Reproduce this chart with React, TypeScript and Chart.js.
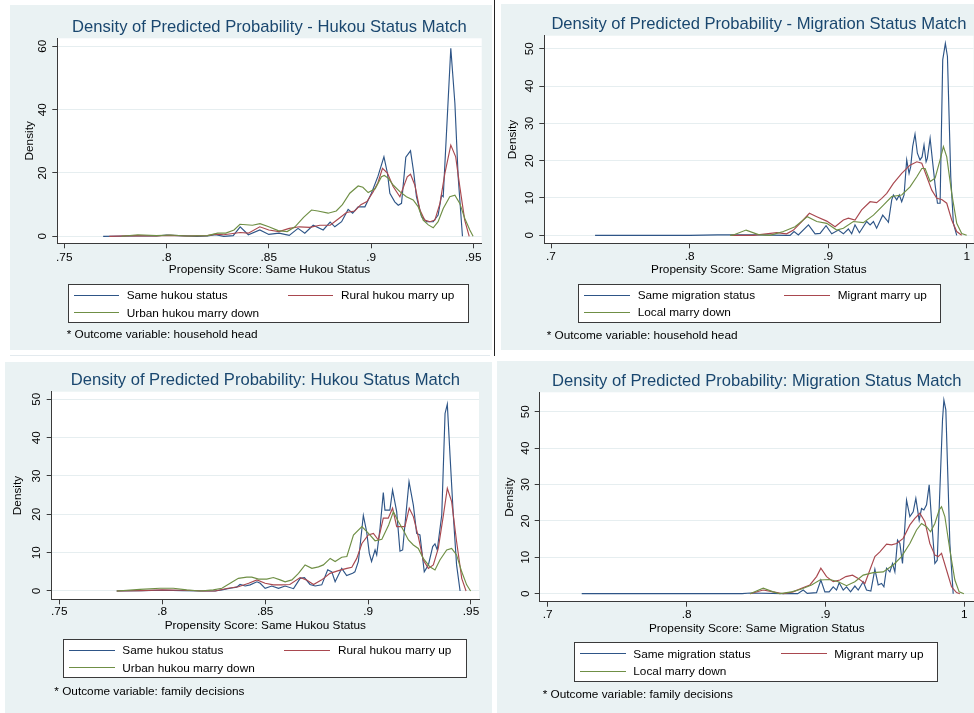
import React, { useEffect, useRef } from "react";
import { Chart, registerables } from "chart.js";

Chart.register(...registerables);

type Pt = [number, number];

// ---------- Data: household head, hukou status match (top-left) ----------
const hhHukouSame: Pt[] = [
  [0.769, 0], [0.785, 0.1], [0.795, 0.1], [0.8, 0.4], [0.806, 0.2], [0.815, 0], [0.82, 0.1], [0.824, 0.5],
  [0.828, 0], [0.8326, 0.2], [0.836, 3], [0.84, 0.5], [0.8456, 2], [0.85, 0.6], [0.855, 1], [0.86, 0.3],
  [0.8643, 2.5], [0.8676, 1], [0.8717, 3.5], [0.8766, 2], [0.88, 4.5], [0.8823, 3], [0.8856, 4.6], [0.8888, 8.5],
  [0.891, 7.3], [0.8937, 9.3], [0.897, 9.3], [0.9002, 13.6], [0.9034, 19], [0.9063, 25.1], [0.908, 20], [0.9092, 13.6],
  [0.9116, 10.9], [0.9133, 9.8], [0.9149, 10.4], [0.917, 25], [0.9193, 27], [0.9209, 20], [0.9222, 12.5], [0.9247, 6.2],
  [0.9271, 4.6], [0.9304, 4.6], [0.9328, 6.7], [0.9345, 13], [0.9353, 12.5], [0.939, 59.4], [0.941, 42], [0.9426, 18.8],
  [0.9447, 0],
];
const hhHukouRuralUp: Pt[] = [
  [0.772, 0], [0.785, 0.2], [0.795, 0.1], [0.801, 0.3], [0.81, 0.1], [0.82, 0.2], [0.824, 0.7], [0.828, 0.5],
  [0.836, 1.2], [0.84, 1], [0.8456, 3], [0.85, 2], [0.855, 1.5], [0.86, 2.5], [0.865, 3], [0.87, 2.8],
  [0.875, 3.5], [0.88, 3.5], [0.883, 5], [0.888, 7.5], [0.892, 8], [0.895, 10], [0.898, 11], [0.901, 14],
  [0.9034, 17], [0.9056, 21.5], [0.908, 20], [0.9108, 15.7], [0.9141, 12.5], [0.9177, 18.8], [0.9193, 19.6], [0.9214, 16.2],
  [0.9239, 8.3], [0.9263, 5.1], [0.9288, 4.6], [0.9312, 5.1], [0.9337, 10.4], [0.9361, 19.9], [0.939, 28.8], [0.9414, 25.1],
  [0.9434, 15.7], [0.9458, 5.1], [0.948, 0],
];
const hhHukouUrbanDown: Pt[] = [
  [0.778, 0], [0.786, 0.5], [0.795, 0.2], [0.802, 0.4], [0.81, 0.1], [0.82, 0.2], [0.825, 1], [0.829, 1],
  [0.833, 2], [0.8359, 3.8], [0.842, 3.5], [0.8457, 4], [0.85, 3], [0.8546, 1.8], [0.859, 1.5], [0.8628, 3],
  [0.867, 6], [0.8709, 8.3], [0.874, 8], [0.879, 7.3], [0.883, 8], [0.886, 10], [0.8896, 13.6], [0.8937, 15.9],
  [0.896, 15.5], [0.8986, 13.8], [0.902, 15], [0.9051, 18.8], [0.9065, 19.2], [0.9085, 18.3], [0.9108, 16.2], [0.9141, 14.1],
  [0.9173, 12.5], [0.9206, 11.5], [0.923, 9.4], [0.9255, 5.1], [0.928, 3.6], [0.9304, 2.7], [0.9328, 4.6], [0.9353, 8.8],
  [0.9385, 12.5], [0.941, 13], [0.9434, 10.4], [0.9458, 5.7], [0.9483, 2], [0.9499, 0],
];

// ---------- Data: household head, migration status match (top-right) ----------
const hhMigSame: Pt[] = [
  [0.7318, 0], [0.8, 0], [0.82, 0.1], [0.85, 0.1], [0.87, 0], [0.8725, 0], [0.8754, 1], [0.8785, 0.1],
  [0.8858, 2.8], [0.8906, 0.4], [0.8942, 0.5], [0.8985, 2.6], [0.9026, 0.4], [0.9074, 1.4], [0.911, 0.4], [0.9146, 1.7],
  [0.917, 0.4], [0.9194, 2.8], [0.9226, 0.7], [0.9278, 3.7], [0.9303, 2.8], [0.9327, 3.7], [0.935, 1.9], [0.9394, 5.4],
  [0.9423, 4.1], [0.9435, 3.5], [0.9459, 9.5], [0.9471, 10.8], [0.9495, 9.5], [0.9514, 10.8], [0.9531, 9], [0.9548, 10.8],
  [0.9567, 20.2], [0.9584, 16.6], [0.9596, 18.4], [0.961, 23.75], [0.9627, 27.1], [0.9644, 22], [0.9663, 20.2], [0.9678, 21],
  [0.9692, 24.2], [0.9707, 19.7], [0.9716, 20.6], [0.9736, 26], [0.9755, 19.3], [0.9772, 13.5], [0.9789, 8.6], [0.9808, 8.6],
  [0.9827, 47], [0.9846, 51.4], [0.9861, 47.9], [0.9885, 15.7], [0.9904, 3.2], [0.9928, 0],
];
const hhMigMigrantUp: Pt[] = [
  [0.83, 0], [0.846, 0], [0.863, 0.7], [0.87, 0.4], [0.875, 1.4], [0.881, 3.7], [0.8865, 5.9], [0.8918, 5],
  [0.899, 3.8], [0.905, 2.3], [0.911, 4.1], [0.9146, 4.6], [0.9194, 4.1], [0.9242, 6.8], [0.9303, 9], [0.935, 8.75],
  [0.9387, 9.9], [0.9423, 11.25], [0.9471, 13.9], [0.9531, 16.6], [0.9591, 18.8], [0.964, 19.7], [0.9676, 19.3], [0.9712, 15.7],
  [0.9748, 12.1], [0.9784, 9.9], [0.982, 9.6], [0.9856, 8.6], [0.9892, 4.1], [0.9928, 1], [0.9964, 0],
];
const hhMigLocalDown: Pt[] = [
  [0.8292, 0], [0.8316, 0.1], [0.8408, 1.4], [0.8497, 0.2], [0.858, 0], [0.8677, 1], [0.8761, 2.3], [0.885, 5],
  [0.8918, 3.7], [0.899, 3.2], [0.9062, 1.4], [0.911, 1.9], [0.9182, 3.7], [0.9254, 3.4], [0.9327, 5.4], [0.9399, 8.1],
  [0.9459, 10.4], [0.9531, 10.8], [0.9591, 13], [0.964, 15.7], [0.9676, 17.9], [0.97, 17.9], [0.9736, 14.4], [0.9772, 15.3],
  [0.9808, 20.2], [0.9832, 23.75], [0.9856, 21], [0.9892, 11.25], [0.9928, 3.2], [0.9964, 0.5], [1.0, 0],
];

// ---------- Data: family decisions, hukou status match (bottom-left) ----------
const fdHukouSame: Pt[] = [
  [0.7779, 0], [0.79, 0.1], [0.8, 0.2], [0.81, 0.1], [0.82, 0], [0.8257, 0], [0.829, 0.3], [0.833, 0.7],
  [0.8362, 1], [0.8378, 1.7], [0.8403, 1.3], [0.8427, 1.6], [0.846, 2.4], [0.8476, 2], [0.85, 0.7], [0.8532, 1.3],
  [0.8565, 0.7], [0.8597, 1.3], [0.8638, 0.6], [0.867, 3.3], [0.8691, 3.5], [0.8718, 1.7], [0.8743, 1.3], [0.8775, 1.6],
  [0.8804, 5.5], [0.8824, 5], [0.884, 2.4], [0.8872, 5.9], [0.8896, 4], [0.8925, 4.6], [0.8936, 5], [0.8953, 7.7],
  [0.8977, 19.7], [0.8993, 15.5], [0.9006, 9.8], [0.9017, 7.7], [0.9034, 10.7], [0.9042, 9.4], [0.9058, 16.3], [0.9074, 25.7],
  [0.9082, 21.1], [0.9106, 21.1], [0.9119, 26.3], [0.9139, 20.7], [0.9155, 10.4], [0.9168, 10.7], [0.9179, 17.2], [0.9199, 28.5],
  [0.922, 22.4], [0.9236, 15], [0.9252, 14.6], [0.9273, 5], [0.9293, 6.8], [0.9314, 11.6], [0.9325, 12.3], [0.9336, 10.7],
  [0.9358, 19.8], [0.9374, 46.3], [0.9385, 48.7], [0.9398, 35.5], [0.9414, 19.8], [0.943, 6.8], [0.9447, 0],
];
const fdHukouRuralUp: Pt[] = [
  [0.7779, 0], [0.79, 0.1], [0.8, 0.3], [0.81, 0.2], [0.82, 0], [0.8257, 0], [0.832, 0.7], [0.837, 1.1],
  [0.842, 2], [0.846, 2.9], [0.85, 2], [0.854, 1.6], [0.858, 1.6], [0.862, 1.7], [0.867, 3.5], [0.87, 2.9],
  [0.8735, 1.7], [0.8775, 2.9], [0.8815, 4.6], [0.8856, 5.3], [0.8897, 5.9], [0.8921, 6.2], [0.8945, 8.5], [0.897, 12.4],
  [0.9001, 14.6], [0.9026, 15], [0.905, 13.3], [0.9074, 19], [0.9098, 19], [0.9119, 21.6], [0.9139, 16.8], [0.9163, 16.8],
  [0.9179, 16.8], [0.92, 21.6], [0.922, 19.4], [0.9244, 14.2], [0.9268, 8.1], [0.9293, 5.9], [0.9317, 6.8], [0.9341, 11.1],
  [0.9366, 19.8], [0.9385, 26.8], [0.9406, 23.3], [0.943, 12.9], [0.9455, 3.3], [0.9476, 0],
];
const fdHukouUrbanDown: Pt[] = [
  [0.7779, 0], [0.7892, 0.4], [0.7989, 0.7], [0.8054, 0.7], [0.8119, 0.3], [0.8183, 0], [0.8248, 0.3], [0.829, 0.7],
  [0.833, 2], [0.837, 3.3], [0.8411, 3.6], [0.8435, 3.6], [0.8468, 3.1], [0.8508, 3.1], [0.854, 3.5], [0.8573, 2.9],
  [0.8597, 2.4], [0.863, 2.9], [0.8662, 4.6], [0.8694, 6.8], [0.8727, 5.9], [0.8759, 6.3], [0.8783, 6.8], [0.8816, 8.5],
  [0.884, 7.7], [0.8872, 8.8], [0.8897, 9], [0.8929, 14.6], [0.897, 16.8], [0.9002, 15], [0.9034, 13.1], [0.9067, 13.5],
  [0.91, 17.2], [0.9123, 20.7], [0.9147, 18.1], [0.9171, 15.9], [0.9196, 13.3], [0.922, 12], [0.9244, 11.1], [0.9268, 8.5],
  [0.93, 6.3], [0.9325, 5.5], [0.9349, 8.1], [0.9382, 10.7], [0.9406, 11.1], [0.943, 9.4], [0.9455, 5], [0.9479, 1.6],
  [0.9498, 0],
];

// ---------- Data: family decisions, migration status match (bottom-right) ----------
const fdMigSame: Pt[] = [
  [0.7245, 0], [0.8, 0], [0.84, 0], [0.846, 0.2], [0.87, 0], [0.88, 0], [0.884, 1], [0.8869, 0.1],
  [0.8936, 0.3], [0.8967, 3.75], [0.8996, 0.5], [0.9027, 0.5], [0.9056, 1.9], [0.908, 1], [0.9099, 3], [0.9128, 1],
  [0.9152, 1.9], [0.9181, 0.5], [0.9212, 2.1], [0.9236, 1], [0.9272, 3.3], [0.9296, 1], [0.9327, 0.7], [0.9356, 6.7],
  [0.938, 2.4], [0.9404, 2.8], [0.9421, 1.9], [0.944, 7], [0.9464, 6], [0.9483, 8.3], [0.95, 6], [0.9519, 14.7],
  [0.9536, 13.8], [0.9555, 8.3], [0.9584, 25.7], [0.9608, 21.2], [0.9632, 22.5], [0.9651, 26.2], [0.9675, 20.2], [0.9692, 23.4],
  [0.9709, 23], [0.9728, 24.4], [0.9747, 29.9], [0.9766, 19.3], [0.9788, 8.3], [0.9805, 9.2], [0.9843, 47.7], [0.9853, 53.2],
  [0.9867, 50.5], [0.9896, 13.8], [0.992, 0],
];
const fdMigMigrantUp: Pt[] = [
  [0.8457, 0], [0.8552, 1], [0.8624, 0.5], [0.8696, 0], [0.8768, 0.5], [0.8828, 1.5], [0.8888, 2.4], [0.8936, 4.7],
  [0.8967, 7], [0.9008, 4.7], [0.9056, 3.3], [0.9104, 3.75], [0.9147, 4.7], [0.9195, 5.1], [0.9236, 4.2], [0.9284, 2.8],
  [0.932, 6.5], [0.9356, 10.2], [0.9392, 11.5], [0.944, 13.6], [0.9476, 13.4], [0.9512, 13.8], [0.956, 15.2], [0.9608, 18.9],
  [0.9644, 20.7], [0.968, 22.1], [0.9716, 19.8], [0.9752, 13.8], [0.9788, 10.6], [0.9812, 10.2], [0.9836, 11.1], [0.9872, 6.5],
  [0.9908, 1.9], [0.9944, 0.3], [0.9968, 0],
];
const fdMigLocalDown: Pt[] = [
  [0.8457, 0], [0.8552, 1.5], [0.8624, 0.5], [0.8672, 0], [0.8756, 0.5], [0.8828, 1.3], [0.89, 2.4], [0.896, 3.75],
  [0.9032, 3.9], [0.9092, 3.3], [0.9152, 2.2], [0.9212, 3.3], [0.9272, 5.1], [0.9344, 5.8], [0.9416, 6], [0.9488, 7.9],
  [0.9548, 10.2], [0.9608, 13.8], [0.9656, 17.5], [0.9692, 19.3], [0.9728, 18.4], [0.9757, 17], [0.9788, 19.3], [0.9819, 23],
  [0.9836, 23.9], [0.986, 21.2], [0.9896, 12], [0.9932, 3.75], [0.9963, 0.5], [0.9997, 0],
];

// ---------- Ticks and labels ----------
const hukouXTicks = [0.75, 0.8, 0.85, 0.9, 0.95];
const hukouXTickLabels = [".75", ".8", ".85", ".9", ".95"];
const migXTicks = [0.7, 0.8, 0.9, 1];
const migXTickLabels = [".7", ".8", ".9", "1"];
const yTicksTo60 = [0, 20, 40, 60];
const yTicksTo50 = [0, 10, 20, 30, 40, 50];

const hukouSeriesNames = ["Same hukou status", "Rural hukou marry up", "Urban hukou marry down"];
const migSeriesNames = ["Same migration status", "Migrant marry up", "Local marry down"];
const panelTitles = [
  "Density of Predicted Probability - Hukou Status Match",
  "Density of Predicted Probability - Migration Status Match",
  "Density of Predicted Probability: Hukou Status Match",
  "Density of Predicted Probability: Migration Status Match",
];
const xAxisTitles = ["Propensity Score: Same Hukou Status", "Propensity Score: Same Migration Status"];
const yAxisTitle = "Density";
const notes = ["* Outcome variable: household head", "* Outcome variable: family decisions"];

// ---------- Styles ----------
const FONT = "'Liberation Sans', Arial, Helvetica, sans-serif";
const FS = 11.8;
const TITLE_FS = 16.6;
const BG = "#EAF2F3";
const GRID = "#E6EEF0";
const AXIS = "#3a3a3a";
const TEXT = "#000";
const TITLE_COLOR = "#1A476F";
const SERIES_COLORS = ["#2E5587", "#A9484F", "#6F8F45"];

type PanelCfg = {
  box: { l: number; t: number; w: number; h: number };
  plot: { L: number; T: number; R: number; B: number };
  xMin: number; xMax: number; yMin: number; yMax: number;
  xTicks: number[]; xLabels: string[]; yTicks: number[];
  series: Pt[][]; names: string[];
  title: string; xTitle: string; note: string;
  titleY: number; yLabX: number; yTitleX: number; xTickY: number; xTitleY: number;
  legend: { x: number; y: number; w: number; h: number; rows: number[]; c1: [number, number, number]; c2: [number, number, number] };
  noteX: number; noteY: number;
};

const panels: PanelCfg[] = [
  {
    box: { l: 10, t: 5, w: 482, h: 345 },
    plot: { L: 57.3, T: 38.3, R: 481.7, B: 243.3 },
    xMin: 0.74658, xMax: 0.95411, yMin: -2.21, yMax: 62.53,
    xTicks: hukouXTicks, xLabels: hukouXTickLabels, yTicks: yTicksTo60,
    series: [hhHukouSame, hhHukouRuralUp, hhHukouUrbanDown], names: hukouSeriesNames,
    title: panelTitles[0], xTitle: xAxisTitles[0], note: notes[0],
    titleY: 26.7, yLabX: 42.3, yTitleX: 30, xTickY: 257.5, xTitleY: 270,
    legend: { x: 68.3, y: 284.3, w: 401, h: 39, rows: [296, 313.3], c1: [74, 119, 126.7], c2: [288.3, 333.3, 341] },
    noteX: 66.7, noteY: 335,
  },
  {
    box: { l: 501, t: 4, w: 473, h: 346 },
    plot: { L: 544.3, T: 35.7, R: 973.5, B: 243.3 },
    xMin: 0.69516, xMax: 1.00491, yMin: -2.14, yMax: 53.48,
    xTicks: migXTicks, xLabels: migXTickLabels, yTicks: yTicksTo50,
    series: [hhMigSame, hhMigMigrantUp, hhMigLocalDown], names: migSeriesNames,
    title: panelTitles[1], xTitle: xAxisTitles[1], note: notes[0],
    titleY: 24.5, yLabX: 530, yTitleX: 512.8, xTickY: 256.3, xTitleY: 270,
    legend: { x: 578.3, y: 283.7, w: 362.4, h: 39.6, rows: [295.7, 312.7], c1: [584.3, 630, 637.7], c2: [784, 830, 837.7] },
    noteX: 546.7, noteY: 335.7,
  },
  {
    box: { l: 5, t: 362, w: 487, h: 351 },
    plot: { L: 51.7, T: 391.7, R: 479, B: 599.3 },
    xMin: 0.74631, xMax: 0.95389, yMin: -2.17, yMax: 51.98,
    xTicks: hukouXTicks, xLabels: hukouXTickLabels, yTicks: yTicksTo50,
    series: [fdHukouSame, fdHukouRuralUp, fdHukouUrbanDown], names: hukouSeriesNames,
    title: panelTitles[2], xTitle: xAxisTitles[0], note: notes[1],
    titleY: 380.5, yLabX: 37.2, yTitleX: 18, xTickY: 612.2, xTitleY: 625.8,
    legend: { x: 63.3, y: 639.3, w: 404, h: 39, rows: [651, 668.3], c1: [69, 115, 122.3], c2: [284, 330, 338] },
    noteX: 54.3, noteY: 691.7,
  },
  {
    box: { l: 497, t: 361, w: 477, h: 352 },
    plot: { L: 539.7, T: 392.3, R: 974, B: 601.7 },
    xMin: 0.69424, xMax: 1.00698, yMin: -2.2, yMax: 55.33,
    xTicks: migXTicks, xLabels: migXTickLabels, yTicks: yTicksTo50,
    series: [fdMigSame, fdMigMigrantUp, fdMigLocalDown], names: migSeriesNames,
    title: panelTitles[3], xTitle: xAxisTitles[1], note: notes[1],
    titleY: 381.3, yLabX: 525.7, yTitleX: 510, xTickY: 614.7, xTitleY: 629.2,
    legend: { x: 574.3, y: 642.3, w: 364, h: 39.4, rows: [654.3, 671.7], c1: [580, 626, 633.3], c2: [781, 826.7, 834.3] },
    noteX: 542.7, noteY: 695,
  },
];

// top for a single-line text box whose cap-height centre should sit at y
const capTop = (y: number, fs: number) => y - 0.4885 * fs;

const plotBackground = {
  id: "plotBackground",
  beforeDraw(chart: any) {
    const { ctx, chartArea } = chart;
    ctx.save();
    ctx.fillStyle = "#ffffff";
    ctx.fillRect(chartArea.left, chartArea.top, chartArea.right - chartArea.left, chartArea.bottom - chartArea.top);
    ctx.restore();
  },
};

const rotatedYLabels = {
  id: "rotatedYLabels",
  afterDraw(chart: any, _args: any, opts: any) {
    const { ctx, chartArea } = chart;
    const ys = chart.scales.y;
    ctx.save();
    ctx.fillStyle = TEXT;
    ctx.font = `${FS}px ${FONT}`;
    ctx.textAlign = "center";
    ctx.textBaseline = "middle";
    for (const t of ys.ticks) {
      const py = ys.getPixelForValue(t.value);
      ctx.save();
      ctx.translate(chartArea.left - opts.offset, py);
      ctx.rotate(-Math.PI / 2);
      ctx.fillText(String(t.value), 0, 0);
      ctx.restore();
    }
    ctx.restore();
  },
};

function Panel({ p }: { p: PanelCfg }) {
  const ref = useRef<HTMLCanvasElement>(null);
  useEffect(() => {
    const canvas = ref.current;
    if (!canvas) return;
    const { box, plot } = p;
    const lh = FS * 1.2;
    const Tr = plot.T - box.t;
    const Rr = plot.R - box.l;
    const Br = plot.B - box.t;
    const Lr = plot.L - box.l;
    const xh = p.xTitleY - plot.B + lh / 2;
    const tickPad = p.xTickY - plot.B - 5 - lh / 2;
    const chart = new Chart(canvas, {
      type: "line",
      data: {
        datasets: p.series.map((s, i) => ({
          label: p.names[i],
          data: s.map(([x, y]) => ({ x, y })),
          borderColor: SERIES_COLORS[i],
          backgroundColor: SERIES_COLORS[i],
          borderWidth: 1.15,
          pointRadius: 0,
          tension: 0,
          fill: false,
          order: 3 - i,
        })),
      },
      options: {
        animation: false,
        responsive: false,
        maintainAspectRatio: false,
        events: [],
        layout: {
          autoPadding: false,
          padding: { left: 0, top: Tr, right: box.w - Rr, bottom: box.h - Br - xh },
        },
        plugins: {
          legend: { display: false },
          tooltip: { enabled: false },
          title: { display: false },
          rotatedYLabels: { offset: plot.L - p.yLabX },
        },
        scales: {
          x: {
            type: "linear",
            position: "bottom",
            min: p.xMin,
            max: p.xMax,
            afterBuildTicks: (s: any) => {
              s.ticks = p.xTicks.map((v) => ({ value: v }));
            },
            afterFit: (s: any) => {
              s.height = xh;
            },
            ticks: {
              autoSkip: false,
              maxRotation: 0,
              minRotation: 0,
              padding: tickPad,
              color: TEXT,
              font: { family: FONT, size: FS },
              callback: (_v: any, i: number) => p.xLabels[i],
            },
            grid: { drawOnChartArea: false, drawTicks: true, tickLength: 5, color: AXIS, tickColor: AXIS, tickWidth: 1 },
            border: { display: true, color: AXIS, width: 1 },
            title: {
              display: true,
              text: p.xTitle,
              color: TEXT,
              font: { family: FONT, size: FS },
              padding: { top: 0, bottom: 0 },
            },
          },
          y: {
            type: "linear",
            position: "left",
            min: p.yMin,
            max: p.yMax,
            afterBuildTicks: (s: any) => {
              s.ticks = p.yTicks.map((v) => ({ value: v }));
            },
            afterFit: (s: any) => {
              s.width = Lr;
            },
            ticks: { display: false },
            grid: { drawOnChartArea: true, drawTicks: true, tickLength: 5, color: GRID, lineWidth: 1, tickColor: AXIS, tickWidth: 1 },
            border: { display: true, color: AXIS, width: 1 },
            title: {
              display: true,
              text: yAxisTitle,
              color: TEXT,
              font: { family: FONT, size: FS },
              padding: { top: p.yTitleX - box.l - lh / 2, bottom: 0 },
            },
          },
        },
      } as any,
      plugins: [plotBackground, rotatedYLabels],
    });
    return () => chart.destroy();
  }, [p]);

  const { box, legend } = p;
  const rel = (x: number, y: number) => ({ left: x - box.l, top: y - box.t });
  const textStyle = (fs: number): React.CSSProperties => ({
    position: "absolute",
    fontFamily: FONT,
    fontSize: fs,
    lineHeight: `${fs}px`,
    whiteSpace: "nowrap",
    color: TEXT,
  });
  const legendItems: { col: [number, number, number]; row: number; i: number }[] = [
    { col: legend.c1, row: legend.rows[0], i: 0 },
    { col: legend.c2, row: legend.rows[0], i: 1 },
    { col: legend.c1, row: legend.rows[1], i: 2 },
  ];

  return (
    <div style={{ position: "absolute", left: box.l, top: box.t, width: box.w, height: box.h, background: BG }}>
      <canvas
        ref={ref}
        width={box.w}
        height={box.h}
        style={{ position: "absolute", left: 0, top: 0, width: box.w, height: box.h }}
      />
      <div
        style={{
          ...textStyle(TITLE_FS),
          color: TITLE_COLOR,
          left: p.plot.L - box.l,
          width: p.plot.R - p.plot.L,
          textAlign: "center",
          top: capTop(p.titleY, TITLE_FS) - box.t,
        }}
      >
        {p.title}
      </div>
      <div
        style={{
          position: "absolute",
          ...rel(legend.x, legend.y),
          width: legend.w,
          height: legend.h,
          boxSizing: "border-box",
          border: `1px solid ${AXIS}`,
          background: "#fff",
        }}
      />
      {legendItems.map(({ col, row, i }) => (
        <React.Fragment key={i}>
          <div
            style={{
              position: "absolute",
              left: Math.round(col[0] - box.l),
              top: Math.round(row - box.t) - 1,
              width: Math.round(col[1] - col[0]),
              height: 1,
              background: SERIES_COLORS[i],
            }}
          />
          <div style={{ ...textStyle(FS), left: col[2] - box.l, top: capTop(row, FS) - box.t }}>{p.names[i]}</div>
        </React.Fragment>
      ))}
      <div style={{ ...textStyle(FS), left: p.noteX - box.l, top: capTop(p.noteY, FS) - box.t }}>{p.note}</div>
    </div>
  );
}

export default function App() {
  return (
    <div
      style={{
        position: "absolute",
        left: 0,
        top: 0,
        width: 974,
        height: 713,
        background: "#ffffff",
        overflow: "hidden",
      }}
    >
      {panels.map((p, i) => (
        <Panel key={i} p={p} />
      ))}
      <div style={{ position: "absolute", left: 493.5, top: 0, width: 1, height: 356, background: "#222" }} />
      <div style={{ position: "absolute", left: 10, top: 355, width: 480, height: 1, background: "#E3EAEE" }} />
    </div>
  );
}
